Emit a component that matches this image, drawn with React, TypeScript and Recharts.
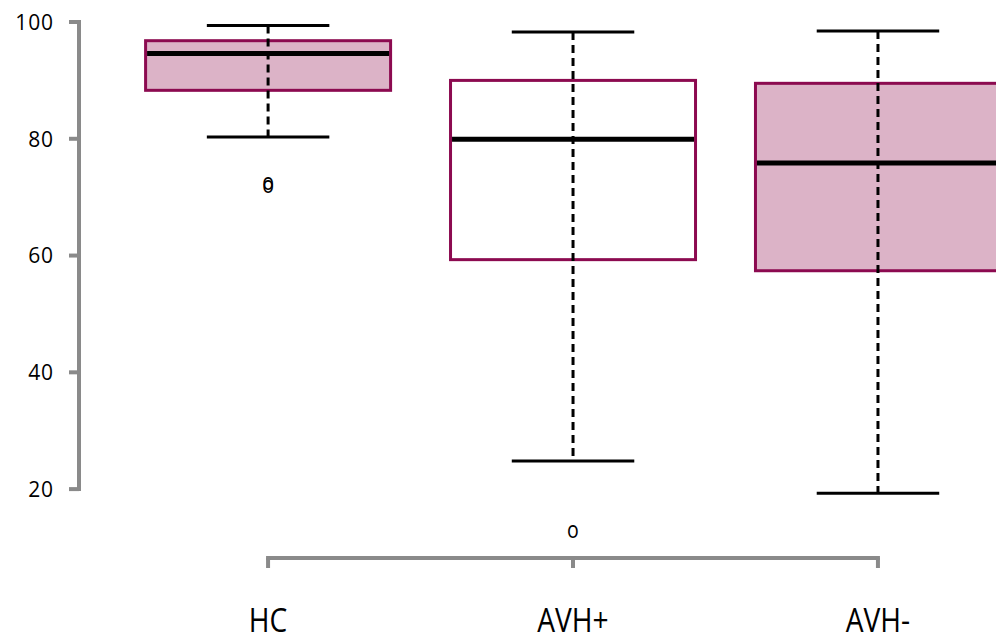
import React from 'react';
import { ComposedChart, Bar, Scatter, XAxis, YAxis, ReferenceLine } from 'recharts';

// groups and their x positions
const groups = ['HC', 'AVH+', 'AVH-'];
const positions = [1, 2, 3];

// box statistics
const lowerWhisker = [80.3, 24.8, 19.3];
const lowerQuartile = [88.3, 59.3, 57.4];
const medians = [94.6, 79.9, 75.85];
const upperQuartile = [96.8, 90.0, 89.5];
const upperWhisker = [99.4, 98.3, 98.45];

// outliers (group position, value)
const outlierPos = [1, 1, 2];
const outlierValues = [72.3, 71.8, 12.7];

const yTicks = [20, 40, 60, 80, 100];

const boxFills = ['#DCB3C7', '#FFFFFF', '#DCB3C7'];
const BORDER = '#8C0A50';
const AXIS = '#8a8a8a';
const FONT = '"Open Sans", sans-serif';

const data = groups.map((name, i) => ({
  name,
  pos: positions[i],
  low: lowerWhisker[i],
  q1: lowerQuartile[i],
  med: medians[i],
  q3: upperQuartile[i],
  high: upperWhisker[i],
  range: [lowerWhisker[i], upperWhisker[i]],
  fill: boxFills[i],
}));

const outliers = outlierPos.map((pos, i) => ({ pos, value: outlierValues[i] }));

const BoxShape = (props: any) => {
  const { x, y, width, height, payload } = props;
  if (x == null || y == null) return null;
  const top = Math.min(y, y + height);
  const bottom = Math.max(y, y + height);
  const { low, high, q1, q3, med, fill } = payload;
  // linear map along the bar's own (scaled) range
  const toPx = (v: number) => top + ((high - v) / (high - low)) * (bottom - top);
  const cx = x + width / 2;
  const capHalf = width / 4;
  const yQ3 = toPx(q3);
  const yQ1 = toPx(q1);
  return (
    <g>
      <rect x={x} y={yQ3} width={width} height={yQ1 - yQ3} fill={fill} stroke={BORDER} strokeWidth={3} />
      <line x1={cx} x2={cx} y1={top} y2={bottom} stroke="#000" strokeWidth={3} strokeDasharray="8 5" />
      <line x1={x + 1.5} x2={x + width - 1.5} y1={toPx(med)} y2={toPx(med)} stroke="#000" strokeWidth={5} />
      <line x1={cx - capHalf} x2={cx + capHalf} y1={top} y2={top} stroke="#000" strokeWidth={3} />
      <line x1={cx - capHalf} x2={cx + capHalf} y1={bottom} y2={bottom} stroke="#000" strokeWidth={3} />
    </g>
  );
};

const OutlierShape = (props: any) => {
  const { cx, cy } = props;
  if (cx == null || cy == null) return null;
  return (
    <text
      transform={`translate(${cx},${cy + 6}) scale(0.85,1)`}
      textAnchor="middle"
      fontSize={23}
      fontFamily={FONT}
      fill="#000"
    >
      o
    </text>
  );
};

const XTick = (props: any) => {
  const { x, y, payload } = props;
  const idx = positions.indexOf(payload.value);
  return (
    <text
      transform={`translate(${x},${y + 62}) scale(0.88,1)`}
      textAnchor="middle"
      fontSize={32}
      fontFamily={FONT}
      fill="#000"
    >
      {groups[idx]}
    </text>
  );
};

const YTick = (props: any) => {
  const { x, y, payload } = props;
  return (
    <text x={x + 0.8} y={y} dy="0.37em" textAnchor="end" fontSize={21} letterSpacing={0.8} fontFamily={FONT} fill="#000">
      {payload.value}
    </text>
  );
};

export default function App() {
  return (
    <div style={{ position: 'fixed', left: 0, top: 0, width: 996, height: 639, overflow: 'hidden', background: '#fff' }}>
      <ComposedChart width={1067} height={640} data={data} margin={{ top: 4.5, right: 0, bottom: 0, left: 0 }}>
        <XAxis
          type="number"
          dataKey="pos"
          domain={[0.38, 3.62]}
          ticks={positions}
          allowDataOverflow
          axisLine={false}
          tickSize={10}
          tickLine={{ stroke: AXIS, strokeWidth: 4 }}
          tick={<XTick />}
          height={82}
        />
        <YAxis
          type="number"
          domain={[8.2, 103]}
          ticks={yTicks}
          allowDataOverflow
          axisLine={false}
          tickSize={10}
          tickMargin={16}
          tickLine={{ stroke: AXIS, strokeWidth: 4 }}
          tick={<YTick />}
          width={79}
        />
        <ReferenceLine
          segment={[{ x: 0.38, y: yTicks[0] }, { x: 0.38, y: yTicks[yTicks.length - 1] }]}
          stroke={AXIS}
          strokeWidth={4}
          strokeLinecap="square"
          ifOverflow="visible"
        />
        <ReferenceLine
          segment={[{ x: positions[0], y: 8.2 }, { x: positions[positions.length - 1], y: 8.2 }]}
          stroke={AXIS}
          strokeWidth={4}
          strokeLinecap="square"
          ifOverflow="visible"
        />
        <Bar dataKey="range" barSize={245} shape={<BoxShape />} isAnimationActive={false} />
        <Scatter data={outliers} dataKey="value" shape={<OutlierShape />} isAnimationActive={false} />
      </ComposedChart>
    </div>
  );
}
